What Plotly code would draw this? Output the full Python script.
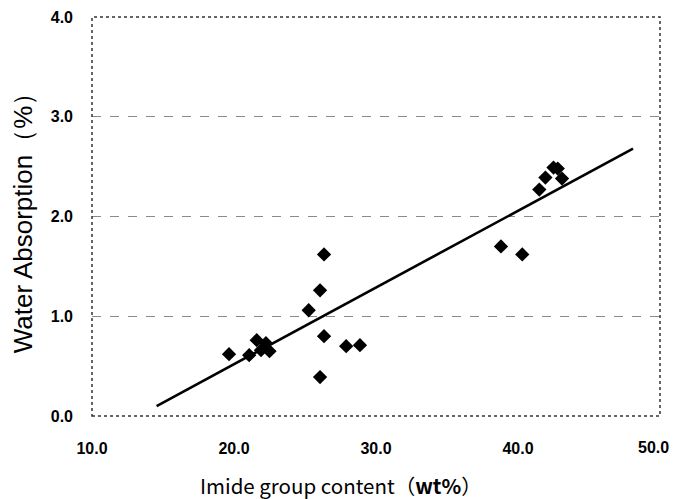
import plotly.graph_objects as go

# Data
imide_content = [19.65, 21.07, 21.6, 22.25, 21.9, 22.5, 25.26, 26.06, 26.34, 26.34,
                 26.06, 27.9, 28.87, 38.8, 40.3, 41.5, 41.93, 42.5, 42.8, 43.1]
water_absorption = [0.62, 0.61, 0.76, 0.73, 0.66, 0.65, 1.06, 1.26, 1.62, 0.80,
                    0.39, 0.70, 0.71, 1.70, 1.62, 2.27, 2.39, 2.49, 2.48, 2.38]

# Trend line end points
trend_x = [14.55, 48.1]
trend_y = [0.10, 2.68]

x_ticks = [10, 20, 30, 40, 50]
y_ticks = [0, 1, 2, 3, 4]

x_title = "Imide group content（<b>wt%</b>）"
y_title = "Water Absorption（%）"

tick_font = dict(family="Liberation Sans, Arial", size=16, color="black", weight="bold")

# last x tick label is drawn as an annotation so it is not clipped at the page edge
x_ticktext = [f"{v:.1f}" for v in x_ticks[:-1]] + [""]
last_label = f"{x_ticks[-1]:.1f}"

fig = go.Figure()
fig.add_trace(go.Scatter(
    x=trend_x, y=trend_y, mode="lines",
    line=dict(color="black", width=2.6), showlegend=False, hoverinfo="skip"))
fig.add_trace(go.Scatter(
    x=imide_content, y=water_absorption, mode="markers",
    marker=dict(symbol="diamond", size=11, color="black"), showlegend=False))

# The page body adds an 8px offset, so the figure is 8px smaller on each axis
fig.update_layout(
    width=671, height=491,
    margin=dict(l=84, r=19, t=9, b=83),
    paper_bgcolor="white", plot_bgcolor="white",
    xaxis=dict(
        range=[10, 50], tickvals=x_ticks, ticktext=x_ticktext, automargin=False,
        showgrid=False, zeroline=False, showline=False,
        ticks="", ticklabelstandoff=21, tickfont=tick_font,
    ),
    yaxis=dict(
        range=[0, 4], tickvals=y_ticks, tickformat=".1f", automargin=False,
        showgrid=True, gridcolor="#8a8a8a", griddash="dash", gridwidth=1,
        zeroline=False, showline=False,
        ticks="", ticklabelstandoff=18, tickfont=tick_font,
        title=dict(text=y_title,
                   font=dict(family="Liberation Sans, Arial", size=26, color="black"),
                   standoff=12),
    ),
    annotations=[
        dict(text=x_title, xref="paper", yref="paper", x=0.438, y=0,
             xanchor="center", yanchor="middle", yshift=-69, showarrow=False,
             font=dict(family="Noto Sans CJK JP", size=20.5, color="black")),
        dict(text=last_label, xref="x", yref="paper", x=x_ticks[-1], y=0,
             xanchor="right", yanchor="top", xshift=11, yshift=-21, showarrow=False,
             font=tick_font),
    ],
    shapes=[dict(type="rect", xref="paper", yref="paper", x0=0, y0=0, x1=1, y1=1,
                 line=dict(color="#333333", width=1.5, dash="dot"), layer="above")],
)

fig.write_html("out.html")
